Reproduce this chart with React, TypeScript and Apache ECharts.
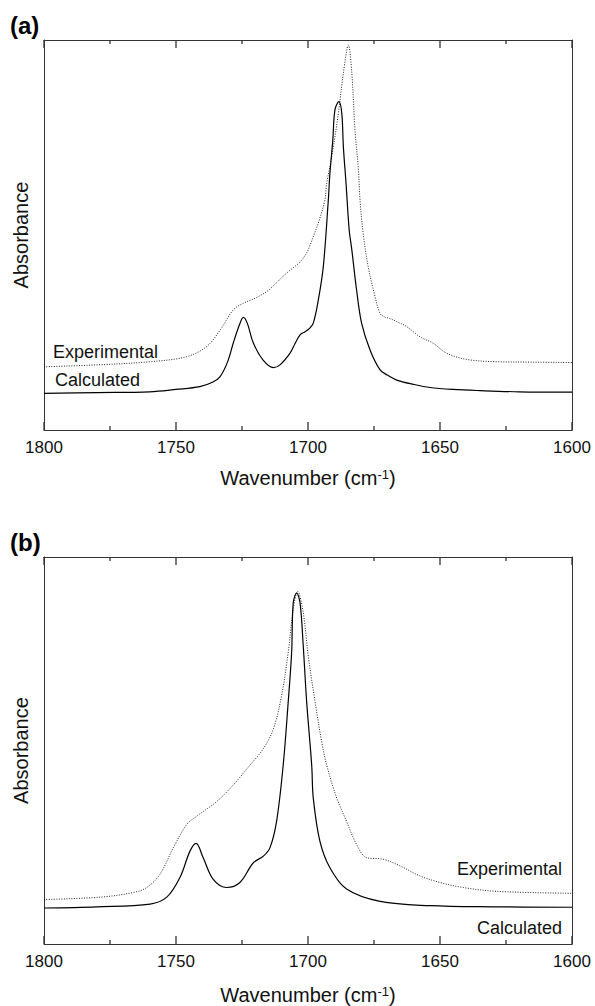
import React, { useEffect, useRef } from 'react';
import * as echarts from 'echarts';

// Panel (a)
const wnCalcA = [1800, 1780, 1760, 1750, 1741, 1736, 1733.3, 1730.5, 1728.3, 1726, 1724.5, 1723, 1720.7, 1717, 1713.1, 1710.6, 1706.8, 1704.9, 1703, 1701.1, 1699.5, 1698, 1696.1, 1694.2, 1692.3, 1691.7, 1690.6, 1689.8, 1688.3, 1687.2, 1686.6, 1685.6, 1684.4, 1683.4, 1681.6, 1679.7, 1676.5, 1672.7, 1670, 1666.4, 1660, 1653.8, 1645, 1634.8, 1620, 1600];
const absCalcA = [0.094, 0.096, 0.098, 0.104, 0.111, 0.123, 0.137, 0.174, 0.223, 0.269, 0.289, 0.274, 0.223, 0.179, 0.160, 0.167, 0.197, 0.222, 0.244, 0.252, 0.260, 0.274, 0.333, 0.419, 0.590, 0.658, 0.744, 0.821, 0.842, 0.812, 0.726, 0.633, 0.513, 0.462, 0.359, 0.274, 0.205, 0.154, 0.141, 0.128, 0.117, 0.109, 0.104, 0.101, 0.098, 0.097];
const wnExpA = [1800, 1780, 1760, 1746, 1738.4, 1733.3, 1728.3, 1724.5, 1720, 1715.6, 1712, 1709, 1706, 1703, 1700.5, 1699.2, 1697.5, 1696.1, 1693.6, 1692.9, 1691, 1688.5, 1686.6, 1684.7, 1683.4, 1682.2, 1680.9, 1680.3, 1679.1, 1677.2, 1674.6, 1672.7, 1671, 1669, 1666.4, 1662.6, 1657.6, 1652.5, 1647.5, 1639.9, 1628.5, 1615, 1600];
const absExpA = [0.162, 0.167, 0.175, 0.188, 0.214, 0.256, 0.308, 0.325, 0.338, 0.355, 0.377, 0.397, 0.414, 0.431, 0.454, 0.474, 0.505, 0.530, 0.590, 0.633, 0.701, 0.812, 0.915, 0.987, 0.915, 0.769, 0.667, 0.590, 0.504, 0.419, 0.342, 0.299, 0.290, 0.286, 0.278, 0.265, 0.239, 0.222, 0.197, 0.181, 0.175, 0.174, 0.173];

// Panel (b)
const wnCalcB = [1800, 1780, 1759.8, 1753.5, 1748.5, 1744.7, 1742.4, 1739.7, 1735.9, 1730.8, 1725.8, 1720.7, 1716.9, 1714.4, 1711.9, 1709.4, 1707.5, 1706.2, 1705.6, 1704.3, 1703, 1701.8, 1700.5, 1698.6, 1698, 1695.5, 1691.7, 1685.4, 1672.7, 1653.8, 1630, 1600];
const absCalcB = [0.093, 0.096, 0.103, 0.121, 0.172, 0.240, 0.260, 0.223, 0.167, 0.146, 0.159, 0.210, 0.227, 0.249, 0.317, 0.462, 0.625, 0.753, 0.881, 0.907, 0.881, 0.770, 0.625, 0.462, 0.377, 0.266, 0.197, 0.142, 0.110, 0.099, 0.096, 0.095];
const wnExpB = [1800, 1778.8, 1766.2, 1761.1, 1756.1, 1751, 1746, 1742.2, 1734.6, 1728.3, 1722, 1716.9, 1713.1, 1710, 1707.5, 1705.6, 1703.9, 1701.8, 1699.9, 1697.3, 1694.8, 1692.9, 1689.1, 1685.4, 1681.6, 1677.8, 1671.5, 1665.2, 1657.6, 1650, 1641.2, 1628.5, 1600];
const absExpB = [0.115, 0.121, 0.133, 0.146, 0.180, 0.249, 0.308, 0.330, 0.368, 0.411, 0.462, 0.505, 0.556, 0.642, 0.753, 0.864, 0.911, 0.856, 0.744, 0.625, 0.522, 0.462, 0.377, 0.317, 0.257, 0.223, 0.219, 0.202, 0.176, 0.159, 0.146, 0.136, 0.131];

// Tick marks (wavenumber, 1 = major / 0 = minor)
const tickValues = [1800, 1775, 1750, 1725, 1700, 1675, 1650, 1625, 1600];
const tickMajor = [1, 0, 1, 0, 1, 0, 1, 0, 1];

const panelLabels = ['(a)', '(b)'];
const seriesNames = ['Experimental', 'Calculated'];
const xTitle = '{t|Wavenumber (cm}{s|-1}{t|)}';
const yTitle = 'Absorbance';

const pairs = (xs: number[], ys: number[]) => xs.map((x, i) => [x, ys[i]]);

const PLOT_H = 390; // px height of each plot, used to turn tick pixel lengths into axis units

export default function App() {
  const ref = useRef<HTMLDivElement>(null);
  useEffect(() => {
    const chart = echarts.init(ref.current!, null, { renderer: 'svg' });
    const font = '"Liberation Sans", Arial, Helvetica, sans-serif';
    const lineCol = '#333';
    const txt = '#111';

    const mkX = (gi: number, pos: 'top' | 'bottom', nameGap: number) => ({
      type: 'value', gridIndex: gi, position: pos, min: 1600, max: 1800, interval: 50, inverse: true,
      axisLine: { show: true, onZero: false, lineStyle: { color: lineCol, width: 1 } },
      axisTick: { show: false }, minorTick: { show: false },
      splitLine: { show: false }, minorSplitLine: { show: false },
      axisLabel: { show: pos === 'bottom', fontSize: 17, color: txt, margin: 9, fontFamily: font, formatter: (v: number) => String(v) },
      name: pos === 'bottom' ? xTitle : '',
      nameLocation: 'middle', nameGap,
      nameTextStyle: {
        rich: {
          t: { fontSize: 20, fontFamily: font, color: txt },
          s: { fontSize: 13, fontFamily: font, color: txt, verticalAlign: 'top' },
        },
      },
    });
    const mkY = (gi: number, pos: 'left' | 'right') => ({
      type: 'value', gridIndex: gi, position: pos, min: 0, max: 1,
      axisLine: { show: true, onZero: false, lineStyle: { color: lineCol, width: 1 } },
      axisTick: { show: false }, axisLabel: { show: false }, splitLine: { show: false },
      name: pos === 'left' ? yTitle : '', nameLocation: 'middle', nameRotate: 90, nameGap: 13,
      nameTextStyle: { fontSize: 20, fontFamily: font, color: txt },
    });

    const expStyle = { color: '#222', width: 1, type: [1, 1.5] as any };
    const calcStyle = { color: '#000', width: 1.2 };
    const mkS = (name: string, xi: number, yi: number, data: any[], style: any, z: number) => ({
      name, type: 'line', xAxisIndex: xi, yAxisIndex: yi, data, showSymbol: false, symbol: 'none',
      smooth: 0.35, lineStyle: style, z, silent: true,
    });

    // inward ticks drawn as broken line segments through the axis scales
    const tickData: any[] = [];
    tickValues.forEach((v, i) => {
      const L = (tickMajor[i] ? 8 : 4) / PLOT_H;
      tickData.push([v, 0], [v, L], [v, '-'], [v, 1], [v, 1 - L], [v, '-']);
    });
    const mkTicks = (xi: number, yi: number) => ({
      name: 'ticks', type: 'line', xAxisIndex: xi, yAxisIndex: yi, data: tickData,
      showSymbol: false, symbol: 'none', smooth: false, connectNulls: false, clip: false,
      lineStyle: { color: '#333', width: 1.3 }, z: 6, silent: true,
    });

    const label = (text: string, x: number, y: number, align: string) => ({
      type: 'text', x, y, silent: true,
      style: { text, fontSize: 18, fontFamily: font, fill: txt, align, verticalAlign: 'middle' },
    });
    const ptitle = (text: string, y: number) => ({
      type: 'text', x: 10, y, silent: true,
      style: { text, fontSize: 24, fontWeight: 'bold', fontFamily: font, fill: '#000', align: 'left', verticalAlign: 'middle' },
    });

    chart.setOption({
      animation: false,
      backgroundColor: '#fff',
      grid: [
        { left: 44, top: 40, width: 528, height: 390 },
        { left: 44, top: 557, width: 528, height: 390 },
      ],
      xAxis: [mkX(0, 'bottom', 38), mkX(0, 'top', 0), mkX(1, 'bottom', 41), mkX(1, 'top', 0)],
      yAxis: [mkY(0, 'left'), mkY(0, 'right'), mkY(1, 'left'), mkY(1, 'right')],
      series: [
        mkS(seriesNames[0], 0, 0, pairs(wnExpA, absExpA), expStyle, 2),
        mkS(seriesNames[1], 0, 0, pairs(wnCalcA, absCalcA), calcStyle, 3),
        mkS(seriesNames[0], 2, 2, pairs(wnExpB, absExpB), expStyle, 2),
        mkS(seriesNames[1], 2, 2, pairs(wnCalcB, absCalcB), calcStyle, 3),
        mkTicks(0, 0),
        mkTicks(2, 2),
      ],
      graphic: [
        ptitle(panelLabels[0], 25),
        ptitle(panelLabels[1], 542),
        label(seriesNames[0], 53, 352, 'left'),
        label(seriesNames[1], 55, 380, 'left'),
        label(seriesNames[0], 562, 869, 'right'),
        label(seriesNames[1], 562, 928, 'right'),
      ],
    });

    return () => chart.dispose();
  }, []);
  return <div ref={ref} style={{ position: 'absolute', left: 0, top: 0, width: 595, height: 1006 }} />;
}
